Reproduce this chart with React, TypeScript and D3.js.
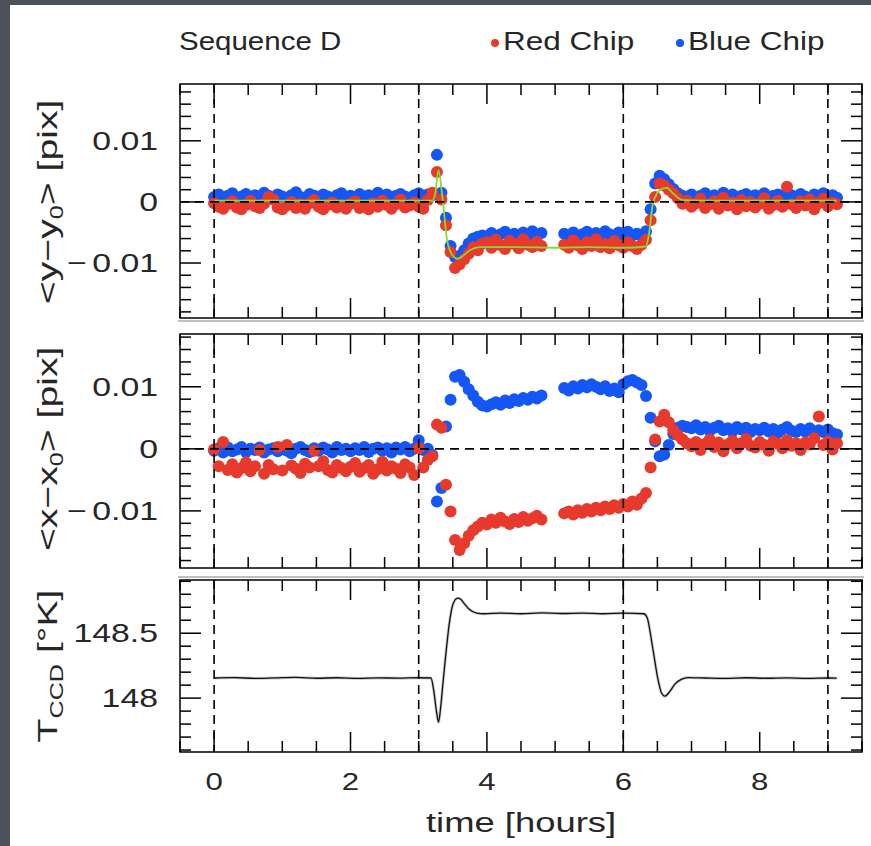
import React, { useEffect } from 'react';
import * as d3 from 'd3';

const W = 871;
const H = 846;

// sampling times [hours], one point every 4 minutes
const TIME = [
  0, 0.067, 0.133, 0.2, 0.267, 0.333, 0.4, 0.467, 0.533, 0.6, 0.667, 0.733, 0.8, 0.867, 0.933,
  1, 1.067, 1.133, 1.2, 1.267, 1.333, 1.4, 1.467, 1.533, 1.6, 1.667, 1.733, 1.8, 1.867, 1.933,
  2, 2.067, 2.133, 2.2, 2.267, 2.333, 2.4, 2.467, 2.533, 2.6, 2.667, 2.733, 2.8, 2.867, 2.933,
  3, 3.067, 3.133, 3.2, 3.267, 3.333, 3.4, 3.467, 3.533, 3.6, 3.667, 3.733, 3.8, 3.867, 3.933,
  4, 4.067, 4.133, 4.2, 4.267, 4.333, 4.4, 4.467, 4.533, 4.6, 4.667, 4.733, 4.8, 4.867, 4.933,
  5, 5.067, 5.133, 5.2, 5.267, 5.333, 5.4, 5.467, 5.533, 5.6, 5.667, 5.733, 5.8, 5.867, 5.933,
  6, 6.067, 6.133, 6.2, 6.267, 6.333, 6.4, 6.467, 6.533, 6.6, 6.667, 6.733, 6.8, 6.867, 6.933,
  7, 7.067, 7.133, 7.2, 7.267, 7.333, 7.4, 7.467, 7.533, 7.6, 7.667, 7.733, 7.8, 7.867, 7.933,
  8, 8.067, 8.133, 8.2, 8.267, 8.333, 8.4, 8.467, 8.533, 8.6, 8.667, 8.733, 8.8, 8.867, 8.933,
  9, 9.067, 9.133,
];

// <y - y0> [pix]
const RED_DY = [
  -0.0002, -0.0008, -0.0011, -0.0004, 0.0001, -0.0009, -0.0012, -0.0005, 0.0002, -0.0007, -0.001, -0.0003, 0.0008, 0.0004, -0.0009,
  -0.0012, -0.0006, 0.0, -0.001, -0.0004, -0.0011, -0.0002, 0.0003, -0.0008, -0.0012, -0.0005, -0.0001, -0.0009, -0.0006, -0.0011,
  -0.0003, 0.0001, -0.001, -0.0007, -0.0012, -0.0002, -0.0008, 0.0002, -0.0005, -0.0011, -0.0004, 0.0004, -0.0009, -0.0006, -0.0001,
  -0.0008, -0.0011, 0.0003, 0.0015, 0.0049, 0.0004, -0.0038, -0.0082, -0.0108, -0.0102, -0.0094, -0.0085, -0.0074, -0.0079, -0.0068,
  -0.0066, -0.0075, -0.0062, -0.0071, -0.0077, -0.0064, -0.0069, -0.0076, -0.0061, -0.007, -0.0074, -0.0065, -0.0072, null, null,
  null, null, -0.007, -0.0075, -0.0063, -0.0071, -0.0077, -0.0066, -0.0072, -0.0061, -0.0074, -0.0069, -0.0076, -0.0064, -0.0071,
  -0.0075, -0.0066, -0.0072, -0.0077, -0.007, -0.0062, -0.003, 0.0008, 0.003, 0.0027, 0.002, 0.0014, 0.0006, -0.0003, 0.0002,
  -0.0008, -0.0002, 0.0005, -0.001, -0.0004, 0.0001, -0.0011, 0.0007, -0.0006, -0.0001, -0.0012, 0.0003, -0.0007, 0.0, -0.0009,
  -0.0003, 0.0006, -0.0011, -0.0005, 0.0002, -0.0008, 0.0025, -0.0004, -0.001, 0.0001, -0.0006, 0.0004, -0.0012, -0.0002, 0.0005,
  -0.0007, -0.0001, -0.0004,
];
const BLUE_DY = [
  0.0008, 0.0012, 0.0006, 0.001, 0.0014, 0.0007, 0.0009, 0.0013, 0.0005, 0.0011, 0.0008, 0.0015, 0.001, 0.0006, 0.0012,
  0.0009, 0.0004, 0.0011, 0.0016, 0.0008, 0.0006, 0.0013, 0.001, 0.0007, 0.0012, 0.0009, 0.0005, 0.0011, 0.0014, 0.0008,
  0.001, 0.0006, 0.0013, 0.0009, 0.0011, 0.0007, 0.0015, 0.0008, 0.0012, 0.0006, 0.001, 0.0013, 0.0009, 0.0007, 0.0011,
  0.0014, 0.001, 0.0012, 0.0011, 0.0077, 0.0015, -0.0026, -0.0072, -0.009, -0.0088, -0.0079, -0.0068, -0.006, -0.0057, -0.0055,
  -0.0056, -0.0051, -0.0059, -0.0053, -0.0049, -0.0057, -0.0052, -0.006, -0.005, -0.0055, -0.0048, -0.0054, -0.0051, null, null,
  null, null, -0.0052, -0.0056, -0.005, -0.0058, -0.0053, -0.0049, -0.0055, -0.0051, -0.0057, -0.0048, -0.0053, -0.0056, -0.005,
  -0.0054, -0.0049, -0.0055, -0.0052, -0.0056, -0.0048, -0.0012, 0.003, 0.0043, 0.0037, 0.0029, 0.0021, 0.0014, 0.001, 0.0008,
  0.0012, 0.0007, 0.001, 0.0014, 0.0006, 0.0011, 0.0009, 0.0015, 0.0008, 0.0012, 0.0005, 0.001, 0.0013, 0.0007, 0.0011,
  0.0009, 0.0014, 0.0006, 0.001, 0.0012, 0.0008, 0.0016, 0.0011, 0.0007, 0.0013, 0.0009, 0.0006, 0.0012, 0.001, 0.0014,
  0.0008, 0.0011, 0.0007,
];

// <x - x0> [pix]
const RED_DX = [
  -0.0001, -0.0028, 0.0011, -0.0034, -0.0025, -0.0038, -0.0031, -0.0022, -0.0036, -0.0028, -0.0002, -0.004, -0.0026, -0.0033, 0.0003,
  -0.0035, 0.0006, -0.0027, -0.0032, -0.0039, -0.0024, -0.003, -0.0003, -0.0028, -0.002, -0.0034, -0.0038, -0.0026, -0.0031, -0.0036,
  -0.0029, -0.0023, -0.0037, -0.0031, -0.0026, -0.004, -0.0033, -0.0021, -0.0035, -0.0028, -0.0032, -0.0039, -0.0025, -0.003, -0.0042,
  0.0001, -0.003, -0.0018, -0.0012, 0.0039, 0.0034, -0.0058, -0.0101, -0.0147, -0.0163, -0.0152, -0.014, -0.0131, -0.0125, -0.0119,
  -0.0122, -0.0114, -0.0119, -0.0111, -0.0117, -0.0121, -0.0113, -0.0118, -0.011, -0.0116, -0.0112, -0.0108, -0.0114, null, null,
  null, null, -0.0104, -0.0101, -0.0106, -0.0099, -0.0103, -0.0097, -0.0101, -0.0095, -0.0099, -0.0093, -0.0097, -0.0091, -0.0095,
  -0.0089, -0.0093, -0.0085, -0.009, -0.008, -0.0071, -0.003, 0.0015, 0.0044, 0.0055, 0.0043, 0.003, 0.0022, 0.0015, 0.0009,
  0.0004, 0.0011, -0.0002, 0.0008, 0.0015, 0.0003, 0.001, -0.0004, 0.0007, 0.0013, 0.0001, 0.0009, 0.0016, 0.0005, 0.0002,
  0.0011, 0.0006, -0.0003, 0.0012, 0.0008, 0.0001, 0.0014, 0.0005, 0.0009, -0.0002, 0.001, 0.0007, 0.0017, 0.0052, 0.0006,
  0.0012, -0.0001, 0.0009,
];
const BLUE_DX = [
  -0.0003, 0.0001, -0.0006, 0.0002, -0.0004, -0.0001, 0.0003, -0.0005, 0.0, -0.0002, 0.0002, -0.0006, -0.0001, 0.0001, -0.0004,
  0.0002, -0.0003, -0.0007, 0.0, 0.0003, -0.0002, -0.0005, 0.0001, -0.0003, 0.0002, -0.0001, -0.0006, 0.0003, -0.0002, 0.0,
  -0.0004, 0.0001, -0.0002, 0.0003, -0.0005, 0.0, 0.0002, -0.0003, 0.0001, -0.0006, 0.0002, -0.0001, 0.0003, -0.0004, 0.0,
  0.0014, -0.0002, 0.0, -0.001, -0.0085, -0.0063, 0.0036, 0.0079, 0.0116, 0.0119, 0.0108, 0.0096, 0.0086, 0.0076, 0.007,
  0.0068, 0.0072, 0.0075, 0.0071, 0.0078, 0.0074, 0.008, 0.0077, 0.0082, 0.0079, 0.0084, 0.0081, 0.0086, null, null,
  null, null, 0.0098, 0.0094, 0.0101, 0.0097, 0.0103, 0.0099, 0.0104, 0.01, 0.0096, 0.0101, 0.0093, 0.0097, 0.0091,
  0.0104, 0.0109, 0.0111, 0.0107, 0.0103, 0.0085, 0.005, 0.0012, -0.0012, -0.0009, 0.0006, 0.0024, 0.0034, 0.0037, 0.0035,
  0.0033, 0.0038, 0.0031, 0.0035, 0.0029, 0.0034, 0.0037, 0.003, 0.0033, 0.0028, 0.0035, 0.0031, 0.0034, 0.0027, 0.0032,
  0.003, 0.0034, 0.0028, 0.0032, 0.0026, 0.0031, 0.0035, 0.0029, 0.0027, 0.0032, 0.0028, 0.0033, 0.0026, 0.003, 0.0027,
  0.0031, 0.0025, 0.0023,
];

// model fit drawn over <y - y0>
const FIT_TIME = [0, 3.2, 3.24, 3.29, 3.35, 3.42, 3.5, 3.57, 3.65, 3.75, 3.9, 4.5, 5.0, 5.5, 6.0, 6.33, 6.38, 6.43, 6.5, 6.58, 6.64, 6.72, 6.8, 6.88, 7.5, 9.13];
const FIT_DY = [0.0002, 0.0002, 0.0012, 0.0052, 0.0005, -0.0065, -0.0088, -0.0093, -0.0088, -0.0079, -0.0074, -0.0074, -0.0075, -0.0074, -0.0075, -0.0073, -0.005, -0.0005, 0.0015, 0.0022, 0.0023, 0.0015, 0.0007, 0.0003, 0.0002, 0.0002];

// CCD temperature [K]
const TEMP_TIME = [0, 0.3, 0.6, 0.9, 1.2, 1.5, 1.8, 2.1, 2.4, 2.7, 3.0, 3.18, 3.22, 3.26, 3.29, 3.32, 3.36, 3.4, 3.45, 3.5, 3.57, 3.62, 3.68, 3.75, 3.85, 3.95, 4.2, 4.5, 4.8, 5.1, 5.4, 5.7, 6.0, 6.3, 6.35, 6.43, 6.51, 6.56, 6.61, 6.68, 6.76, 6.85, 6.95, 7.2, 7.5, 7.8, 8.1, 8.4, 8.7, 9.0, 9.13];
const TEMP_K = [148.155, 148.158, 148.152, 148.156, 148.16, 148.153, 148.157, 148.152, 148.156, 148.154, 148.157, 148.155, 148.06, 147.9, 147.815, 147.92, 148.14, 148.35, 148.58, 148.72, 148.77, 148.76, 148.72, 148.68, 148.655, 148.65, 148.655, 148.65, 148.657, 148.652, 148.655, 148.65, 148.655, 148.65, 148.62, 148.39, 148.14, 148.04, 148.015, 148.05, 148.11, 148.145, 148.158, 148.155, 148.152, 148.157, 148.153, 148.156, 148.152, 148.155, 148.154];

const X_TICKS = [0, 2, 4, 6, 8];
const PHASE_EDGES = [0, 3, 6, 9];
const PIX_TICKS = [0.01, 0, -0.01];
const PIX_LABELS = ['0.01', '0', '0.01'];
const TEMP_TICKS = [148.5, 148];
const TEMP_LABELS = ['148.5', '148'];

const RED = '#e73a2c';
const BLUE = '#1556f6';
const GREEN = '#84dd2c';
const FONT = '"Liberation Sans", Arial, sans-serif';
const INK = '#262626';
const SLATE = '#4c515a';

const FRAME_L = 180;
const FRAME_R = 862;
const x = d3.scaleLinear().domain([-0.5, 9.5]).range([FRAME_L, FRAME_R]);

const yDy = d3.scaleLinear().domain([-0.019, 0.0193]).range([318, 84]);
const yDx = d3.scaleLinear().domain([-0.0192, 0.0185]).range([568, 334]);
const yT = d3.scaleLinear().domain([147.585, 148.91]).range([752, 580]);

const xMinor = d3.range(-1, 20).map(k => k / 2);
const pixMinor = d3.range(-9, 10).map(k => k * 0.002);
const tempMinor = d3.range(1476, 1490).map(k => k / 10);

function Frame({ y, minor, major }) {
  const [y0, y1] = y.range();
  const top = Math.min(y0, y1);
  const bot = Math.max(y0, y1);
  return (
    <g stroke="#000" strokeWidth={1.5} fill="none">
      {xMinor.map(t => {
        const len = t % 2 === 0 ? 20 : 11;
        const px = x(t);
        return (
          <g key={'x' + t}>
            <line x1={px} x2={px} y1={top} y2={top + len} />
            <line x1={px} x2={px} y1={bot} y2={bot - len} />
          </g>
        );
      })}
      {minor.map(v => {
        const isMajor = major.some(m => Math.abs(m - v) < 1e-9);
        const len = isMajor ? 21 : 11;
        const py = y(v);
        return (
          <g key={'y' + v}>
            <line x1={FRAME_L} x2={FRAME_L + len} y1={py} y2={py} />
            <line x1={FRAME_R} x2={FRAME_R - len} y1={py} y2={py} />
          </g>
        );
      })}
      <rect x={FRAME_L} y={top} width={FRAME_R - FRAME_L} height={bot - top} />
    </g>
  );
}

function Dashes({ y, zero }) {
  const [y0, y1] = y.range();
  const top = Math.min(y0, y1);
  const bot = Math.max(y0, y1);
  return (
    <g stroke="#000" strokeWidth={1.6} strokeDasharray="9,6" fill="none">
      {PHASE_EDGES.map(t => (
        <line key={t} x1={x(t)} x2={x(t)} y1={top} y2={bot} />
      ))}
      {zero && <line x1={FRAME_L} x2={FRAME_R} y1={y(0)} y2={y(0)} />}
    </g>
  );
}

function Dots({ values, y, color }) {
  return (
    <g fill={color}>
      {values.map((v, i) =>
        v === null ? null : <circle key={i} cx={x(TIME[i])} cy={y(v)} r={6} />
      )}
    </g>
  );
}

function Txt({ x: tx, y: ty, size, sx = 1.3, anchor = 'start', rot = 0, children }) {
  return (
    <text
      transform={`translate(${tx},${ty}) rotate(${rot}) scale(${sx},1)`}
      fontFamily={FONT}
      fontSize={size}
      fill={INK}
      textAnchor={anchor}
    >
      {children}
    </text>
  );
}

// y tick label: number right-aligned, minus sign set slightly apart
function YLabel({ py, text, negative }) {
  return (
    <g>
      <Txt x={158} y={py + 9} size={26} anchor="end">{text}</Txt>
      {negative && <Txt x={67} y={py + 9} size={26} sx={1.3}>{'\u2212'}</Txt>}
    </g>
  );
}

export default function App() {
  useEffect(() => {
    document.documentElement.style.overflow = 'hidden';
    document.documentElement.style.background = '#fff';
    document.body.style.overflow = 'hidden';
    document.body.style.margin = '0';
  }, []);

  const fitLine = d3
    .line()
    .x(d => x(d[0]))
    .y(d => yDy(d[1]))
    .curve(d3.curveMonotoneX)(FIT_TIME.map((t, i) => [t, FIT_DY[i]]));
  const tempLine = d3
    .line()
    .x(d => x(d[0]))
    .y(d => yT(d[1]))
    .curve(d3.curveMonotoneX)(TEMP_TIME.map((t, i) => [t, TEMP_K[i]]));

  return (
    <svg width={W} height={H} style={{ position: 'fixed', left: 0, top: 0, display: 'block' }}>
      {/* white slide with a dark border strip on the top and left edges only */}
      <rect width={W} height={H} fill="#fff" />
      <rect x={0} y={0} width={W} height={5} fill={SLATE} />
      <rect x={0} y={0} width={10} height={H} fill={SLATE} />

      {/* header */}
      <Txt x={179} y={50} size={25} sx={1.18}>Sequence D</Txt>
      <circle cx={495} cy={43} r={4} fill={RED} />
      <Txt x={503} y={50} size={25} sx={1.26}>Red Chip</Txt>
      <circle cx={680} cy={43} r={4} fill={BLUE} />
      <Txt x={688} y={50} size={25} sx={1.26}>Blue Chip</Txt>

      {/* panel separators */}
      <line x1={178} x2={864} y1={321} y2={321} stroke="#aaa" strokeWidth={1.5} />
      <line x1={178} x2={864} y1={577} y2={577} stroke="#aaa" strokeWidth={1.5} />

      {/* panel 1 : <y - y0> */}
      <Dots values={BLUE_DY} y={yDy} color={BLUE} />
      <Dots values={RED_DY} y={yDy} color={RED} />
      <path d={fitLine} fill="none" stroke={GREEN} strokeWidth={1.8} />
      <Dashes y={yDy} zero />
      <Frame y={yDy} minor={pixMinor} major={PIX_TICKS} />

      {/* panel 2 : <x - x0> */}
      <Dots values={BLUE_DX} y={yDx} color={BLUE} />
      <Dots values={RED_DX} y={yDx} color={RED} />
      <Dashes y={yDx} zero />
      <Frame y={yDx} minor={pixMinor} major={PIX_TICKS} />

      {/* panel 3 : T_CCD */}
      <path d={tempLine} fill="none" stroke="#999" strokeOpacity={0.5} strokeWidth={3} />
      <path d={tempLine} fill="none" stroke="#111" strokeWidth={1.3} />
      <Dashes y={yT} />
      <Frame y={yT} minor={tempMinor} major={TEMP_TICKS} />

      {/* y tick labels */}
      {PIX_TICKS.map((v, i) => (
        <YLabel key={'a' + i} py={yDy(v)} text={PIX_LABELS[i]} negative={v < 0} />
      ))}
      {PIX_TICKS.map((v, i) => (
        <YLabel key={'b' + i} py={yDx(v)} text={PIX_LABELS[i]} negative={v < 0} />
      ))}
      {TEMP_TICKS.map((v, i) => (
        <YLabel key={'c' + i} py={yT(v)} text={TEMP_LABELS[i]} negative={false} />
      ))}

      {/* x tick labels */}
      {X_TICKS.map(t => (
        <Txt key={'t' + t} x={x(t)} y={790} size={24} anchor="middle">{String(t)}</Txt>
      ))}
      <Txt x={x(4.5)} y={832} size={28} sx={1.3} anchor="middle">time [hours]</Txt>

      {/* axis titles */}
      <Txt x={57} y={yDy(0)} size={28} sx={1.4} rot={-90} anchor="middle">
        {'<y\u2212y'}<tspan fontSize={18} dy={6}>0</tspan><tspan dy={-6}>{'> [pix]'}</tspan>
      </Txt>
      <Txt x={57} y={yDx(0)} size={28} sx={1.4} rot={-90} anchor="middle">
        {'<x\u2212x'}<tspan fontSize={18} dy={6}>0</tspan><tspan dy={-6}>{'> [pix]'}</tspan>
      </Txt>
      <Txt x={57} y={666} size={28} sx={1.4} rot={-90} anchor="middle">
        T<tspan fontSize={18} dy={6}>CCD</tspan><tspan dy={-6}>{' [\u00b0K]'}</tspan>
      </Txt>
    </svg>
  );
}
